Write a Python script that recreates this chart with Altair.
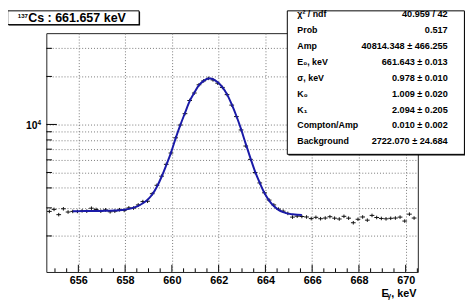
import altair as alt
import pandas as pd

# ---------------- data ----------------
energy = [654.76, 654.96, 655.16, 655.36, 655.56, 655.76, 655.96, 656.16, 656.36, 656.56,
          656.76, 656.96, 657.16, 657.36, 657.56, 657.76, 657.96, 658.16, 658.36, 658.56,
          658.76, 658.96, 659.16, 659.36, 659.56, 659.76, 659.96, 660.16, 660.36, 660.56,
          660.76, 660.96, 661.16, 661.36, 661.56, 661.76, 661.96, 662.16, 662.36, 662.56,
          662.76, 662.96, 663.16, 663.36, 663.56, 663.76, 663.96, 664.16, 664.36, 664.56,
          664.76, 664.96, 665.16, 665.36, 665.56, 665.76, 665.96, 666.16, 666.36, 666.56,
          666.76, 666.96, 667.16, 667.36, 667.56, 667.76, 667.96, 668.16, 668.36, 668.56,
          668.76, 668.96, 669.16, 669.36, 669.56, 669.76, 669.96, 670.16, 670.36]
counts = [2850, 2935, 2720, 2960, 2825, 2850, 2850, 2874, 2860, 2985,
          2931, 2860, 2915, 2834, 2860, 2920, 2890, 3000, 2990, 3130,
          3284, 3300, 3680, 4155, 4740, 5623, 6620, 8247, 9915, 11686,
          14130, 15740, 17730, 18760, 19450, 19010, 18140, 17060, 15380, 13220,
          11200, 9237, 7322, 6040, 4996, 4298, 3729, 3357, 3129, 2944,
          2860, 2770, 2625, 2660, 2648, 2630, 2570, 2617, 2565, 2590,
          2640, 2585, 2555, 2655, 2585, 2420, 2545, 2630, 2512, 2690,
          2610, 2575, 2560, 2580, 2590, 2625, 2480, 2740, 2590]

fit_energy = [655.76, 655.96, 656.16, 656.36, 656.56, 656.76, 656.96, 657.16, 657.36, 657.56,
              657.76, 657.96, 658.16, 658.36, 658.56, 658.76, 658.96, 659.16, 659.36, 659.56,
              659.76, 659.96, 660.16, 660.36, 660.56, 660.76, 660.96, 661.16, 661.36, 661.56,
              661.66, 661.76, 661.96, 662.16, 662.36, 662.56, 662.76, 662.96, 663.16, 663.36,
              663.56, 663.76, 663.96, 664.16, 664.36, 664.56, 664.76, 664.96, 665.16, 665.36,
              665.56]
fit_counts = [2858, 2860, 2862, 2864, 2866, 2868, 2870, 2873, 2877, 2884,
              2896, 2918, 2955, 3010, 3090, 3205, 3375, 3640, 4070, 4700,
              5560, 6640, 8180, 9900, 11800, 14000, 15820, 17620, 18760, 19400,
              19440, 19200, 18400, 17150, 15430, 13350, 11300, 9340, 7550, 6150,
              5060, 4300, 3715, 3330, 3080, 2915, 2820, 2762, 2735, 2718,
              2710]

x_major = [656, 658, 660, 662, 664, 666, 668, 670]
x_minor = [655, 655.5, 656.5, 657, 657.5, 658.5, 659, 659.5, 660.5, 661, 661.5,
           662.5, 663, 663.5, 664.5, 665, 665.5, 666.5, 667, 667.5, 668.5, 669,
           669.5, 670.5]
y_major = [10000]
y_minor = [2000, 3000, 4000, 5000, 6000, 7000, 8000, 9000, 20000, 30000]
y_grid = [2000, 3000, 4000, 5000, 6000, 7000, 8000, 9000, 10000, 20000, 30000]

stat_labels = ["χ² / ndf", "Prob", "Amp", "E₀, keV", "σ, keV", "K₀", "K₁",
               "Compton/Amp", "Background"]
stat_values = ["40.959 / 42", "0.517", "40814.348 ± 466.255", "661.643 ± 0.013",
               "0.978 ± 0.010", "1.009 ± 0.020", "2.094 ± 0.205", "0.010 ± 0.002",
               "2722.070 ± 24.684"]

title_sup = "137"
title_main = "Cs : 661.657 keV"
x_title = ["E", "γ", ", keV"]
y_label = ["10", "4"]

# ---------------- chart ----------------
W, H = 378, 243
FONT = "Liberation Sans"
xs = alt.Scale(domain=[654.63, 670.52], nice=False, zero=False)
ys = alt.Scale(type="log", domain=[1189, 37350], nice=False)

hist = pd.DataFrame({"E": energy, "N": counts})
fit = pd.DataFrame({"E": fit_energy, "N": fit_counts})
one = pd.DataFrame({"a": [0]})

x_axis = alt.Axis(values=x_major, grid=True, gridDash=[1, 2], gridColor="#777",
                  gridWidth=1, ticks=False, tickSize=0, domain=False,
                  labelFont=FONT, labelFontWeight="bold", labelFontSize=11,
                  labelColor="black", labelPadding=3, format="d", title=None,
                  labelOverlap=False)
y_axis = alt.Axis(values=y_grid, grid=True, gridDash=[1, 2], gridColor="#777",
                  gridWidth=1, ticks=False, tickSize=0, domain=False,
                  labels=False, title=None)

def X(f):
    return alt.X(f, scale=xs, axis=x_axis, title=None)

def Y(f):
    return alt.Y(f, scale=ys, axis=y_axis, title=None)

points = alt.Chart(hist).mark_point(
    shape="M-1,0L1,0M0,-0.75L0,0.75", filled=False, stroke="#111",
    strokeWidth=1, size=23, opacity=1
).encode(x=X("E:Q"), y=Y("N:Q"))

curve = alt.Chart(fit).mark_line(
    color="#1a1aa8", strokeWidth=2, interpolate="monotone"
).encode(x=X("E:Q"), y=Y("N:Q"))

def xticks(vals, length):
    return alt.Chart(pd.DataFrame({"E": vals})).mark_rule(color="black", strokeWidth=1).encode(
        x=X("E:Q"), y=alt.value(H), y2=alt.value(H - length))

def yticks(vals, length):
    return alt.Chart(pd.DataFrame({"N": vals})).mark_rule(color="black", strokeWidth=1).encode(
        y=Y("N:Q"), x=alt.value(0), x2=alt.value(length))

layers = [points, curve,
          xticks(x_major, 7.3), xticks(x_minor, 3.7),
          yticks(y_major, 10.7), yticks(y_minor, 5.7)]

# y-axis "10^4" label
ylab = pd.DataFrame({"N": [10000]})
layers.append(alt.Chart(ylab).mark_text(
    text=y_label[0], align="right", baseline="middle", dy=1.6,
    font=FONT, fontWeight="bold", fontSize=10.5, color="black"
).encode(y=Y("N:Q"), x=alt.value(-9)))
layers.append(alt.Chart(ylab).mark_text(
    text=y_label[1], align="left", baseline="alphabetic", dy=0.8,
    font=FONT, fontWeight="bold", fontSize=6.5, color="black"
).encode(y=Y("N:Q"), x=alt.value(-9)))

# x-axis title  E_γ, keV
layers.append(alt.Chart(one).mark_text(
    text=x_title[0], align="left", baseline="alphabetic", font=FONT,
    fontWeight="bold", fontSize=11, color="black"
).encode(x=alt.value(341), y=alt.value(H + 25.3)))
layers.append(alt.Chart(one).mark_text(
    text=x_title[1], align="left", baseline="alphabetic", font=FONT,
    fontWeight="bold", fontSize=7, color="black"
).encode(x=alt.value(347), y=alt.value(H + 26.5)))
layers.append(alt.Chart(one).mark_text(
    text=x_title[2], align="left", baseline="alphabetic", font=FONT,
    fontWeight="bold", fontSize=11, color="black"
).encode(x=alt.value(351), y=alt.value(H + 25.3)))

def box(x1, x2, y1, y2, shadow=1.2):
    sh = alt.Chart(one).mark_rect(fill="black").encode(
        x=alt.value(x1 + shadow), x2=alt.value(x2 + shadow),
        y=alt.value(y1 + shadow), y2=alt.value(y2 + shadow))
    bx = alt.Chart(one).mark_rect(fill="white", stroke="black", strokeWidth=1).encode(
        x=alt.value(x1), x2=alt.value(x2), y=alt.value(y1), y2=alt.value(y2))
    return [sh, bx]

# stats box
layers += box(245.2, 425.4, -22.7, 123.3)
row0, step = -19.3, 16.18
for i, (lab, val) in enumerate(zip(stat_labels, stat_values)):
    yy = row0 + i * step
    layers.append(alt.Chart(one).mark_text(
        text=lab, align="left", baseline="middle", font=FONT, fontWeight="bold",
        fontSize=9, color="black").encode(x=alt.value(255.4), y=alt.value(yy)))
    layers.append(alt.Chart(one).mark_text(
        text=val, align="right", baseline="middle", font=FONT, fontWeight="bold",
        fontSize=9.3, color="black").encode(x=alt.value(408.4), y=alt.value(yy)))

# title box
layers += box(-39.3, 94.4, -22.7, -8.7, shadow=1)
layers.append(alt.Chart(one).mark_text(
    text=title_sup, align="left", baseline="alphabetic", font=FONT, fontWeight="bold",
    fontSize=6.2, color="black").encode(x=alt.value(-29), y=alt.value(-15.2)))
layers.append(alt.Chart(one).mark_text(
    text=title_main, align="left", baseline="alphabetic", font=FONT, fontWeight="bold",
    fontSize=12.7, color="black").encode(x=alt.value(-18.5), y=alt.value(-11.2)))

chart = alt.layer(*layers).properties(
    width=W, height=H,
    padding={"left": 39, "top": 23, "right": 48, "bottom": 31},
    autosize=alt.AutoSizeParams(type="none"),
).configure(background="white").configure_view(stroke="#222", strokeWidth=1)

chart.save("out.html", embed_options={"renderer": "svg", "actions": False})
